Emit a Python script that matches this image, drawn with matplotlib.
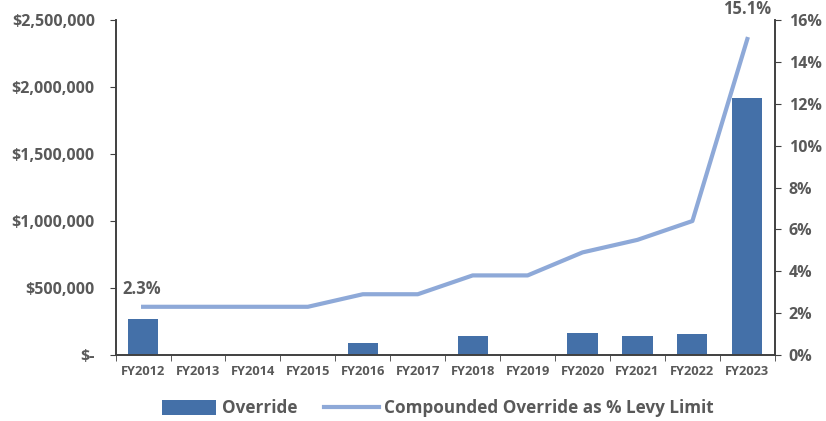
import matplotlib
matplotlib.use("Agg")
import matplotlib.pyplot as plt
from matplotlib.ticker import FuncFormatter, MultipleLocator
import numpy as np

years = ["FY2012", "FY2013", "FY2014", "FY2015", "FY2016", "FY2017",
         "FY2018", "FY2019", "FY2020", "FY2021", "FY2022", "FY2023"]
override = [270000, 0, 0, 0, 90000, 0, 142000, 0, 164000, 142000, 157000, 1920000]
pct_levy = [2.3, 2.3, 2.3, 2.3, 2.9, 2.9, 3.8, 3.8, 4.9, 5.5, 6.4, 15.1]

bar_color = "#4470A8"
line_color = "#8EA9D8"
text_color = "#595959"

plt.rcParams["font.family"] = ["Open Sans", "DejaVu Sans"]

fig = plt.figure(figsize=(8.26, 4.21), dpi=100)
ax = fig.add_axes([0.140, 0.157, 0.798, 0.795])
ax2 = ax.twinx()

x = np.arange(len(years))
ax.bar(x, override, width=0.55, color=bar_color, zorder=2, label="Override")
ax2.plot(x, pct_levy, color=line_color, lw=3, zorder=3,
         label="Compounded Override as % Levy Limit")

ax.set_xlim(-0.5, len(years) - 0.5)
ax.set_ylim(0, 2500000)
ax2.set_ylim(0, 16)
ax.yaxis.set_major_locator(MultipleLocator(500000))
ax2.yaxis.set_major_locator(MultipleLocator(2))

def money(v, pos):
    if v == 0:
        return "$-"
    return "${:,.0f}".format(v)

ax.yaxis.set_major_formatter(FuncFormatter(money))
ax2.yaxis.set_major_formatter(FuncFormatter(lambda v, p: f"{v:.0f}%"))

ax.set_xticks(x)
ax.set_xticklabels(years)
ax.set_xticks(np.arange(-0.5, len(years)), minor=True)
ax.tick_params(axis="x", which="major", length=0, pad=7,
               labelsize=9.3, labelcolor=text_color)
ax.tick_params(axis="x", which="minor", length=4, color="#404040")
ax.tick_params(axis="y", length=4, color="#404040", labelsize=11.5,
               labelcolor=text_color, pad=11)
ax2.tick_params(axis="y", length=4, color="#404040", labelsize=11.5,
                labelcolor=text_color, pad=6)
for lab in ax.get_xticklabels() + ax.get_yticklabels() + ax2.get_yticklabels():
    lab.set_fontweight("bold")

for a in (ax, ax2):
    a.spines["top"].set_visible(False)
    for s in ("left", "right", "bottom"):
        a.spines[s].set_color("#404040")
        a.spines[s].set_linewidth(1.2)

ax2.annotate(f"{pct_levy[0]}%", (x[0], pct_levy[0]), xytext=(-15, 6),
             textcoords="offset points", ha="left", va="bottom",
             fontsize=12, fontweight="bold", color=text_color)
ax2.annotate(f"{pct_levy[-1]}%", (x[-1], pct_levy[-1]), xytext=(17, 15),
             textcoords="offset points", ha="right", va="bottom",
             fontsize=12, fontweight="bold", color=text_color,
             annotation_clip=False)

h1, l1 = ax.get_legend_handles_labels()
h2, l2 = ax2.get_legend_handles_labels()
fig.legend(h1 + h2, l1 + l2, loc="center", bbox_to_anchor=(0.53, 0.03),
           ncol=2, frameon=False, handlelength=3.2, handleheight=0.9,
           handletextpad=0.3, columnspacing=1.6, labelcolor=text_color,
           prop={"weight": "bold", "size": 12.3})

fig.savefig("out.png", dpi=100)
